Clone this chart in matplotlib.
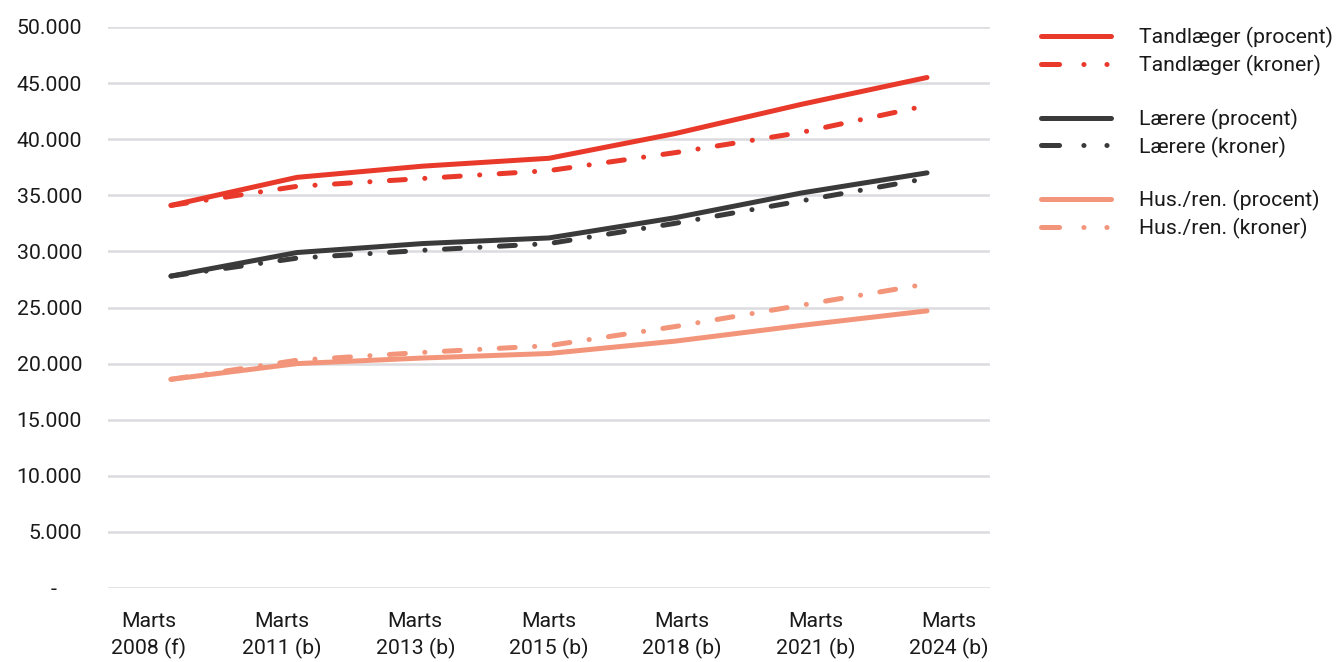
import matplotlib
matplotlib.use("Agg")
import matplotlib.pyplot as plt
from matplotlib.lines import Line2D
from matplotlib.ticker import FuncFormatter, MultipleLocator
from matplotlib.transforms import ScaledTranslation

plt.rcParams["font.family"] = ["Roboto", "DejaVu Sans"]
plt.rcParams["lines.scale_dashes"] = False

periods = ["Marts\n2008 (f)", "Marts\n2011 (b)", "Marts\n2013 (b)", "Marts\n2015 (b)",
           "Marts\n2018 (b)", "Marts\n2021 (b)", "Marts\n2024 (b)"]

tand_procent = [34100, 36600, 37600, 38300, 40500, 43100, 45500]
tand_kroner = [34100, 35800, 36500, 37200, 38800, 40600, 43000]
laer_procent = [27800, 29900, 30700, 31200, 33000, 35200, 37000]
laer_kroner = [27800, 29400, 30100, 30700, 32500, 34500, 36500]
hus_procent = [18600, 20000, 20500, 20900, 22000, 23400, 24700]
hus_kroner = [18600, 20300, 21000, 21600, 23300, 25200, 27100]

labels = ["Tandlæger (procent)", "Tandlæger (kroner)",
          "Lærere (procent)", "Lærere (kroner)",
          "Hus./ren. (procent)", "Hus./ren. (kroner)"]

RED = "#E8392B"
DARK = "#3A3A3A"
SALMON = "#F3957A"
GRID = "#DCDCE0"
TEXT = "#1A1A1A"
FS = 15.3

W, H = 1337, 662
fig = plt.figure(figsize=(W / 100, H / 100), dpi=100)
ax = fig.add_axes([108 / W, 1 - 588 / H, (990 - 108) / W, (588 - 27) / H])

x = list(range(len(periods)))
lw = 3.6
dashdot = (0, (11.5, 14.0, 0.1, 14.0))
series = [
    (tand_procent, RED, "-"), (tand_kroner, RED, dashdot),
    (laer_procent, DARK, "-"), (laer_kroner, DARK, dashdot),
    (hus_procent, SALMON, "-"), (hus_kroner, SALMON, dashdot),
]
for (vals, col, ls), lab in zip(series, labels):
    ax.plot(x, vals, color=col, lw=lw, ls=ls, solid_capstyle="round",
            dash_capstyle="round", solid_joinstyle="round", label=lab, zorder=3)

ax.set_xlim(-0.5, len(periods) - 0.5)
ax.set_ylim(0, 50000)
ax.yaxis.set_major_locator(MultipleLocator(5000))
ax.yaxis.set_major_formatter(FuncFormatter(
    lambda v, p: "-" if v == 0 else f"{int(v):,}".replace(",", ".")))
ax.grid(axis="y", color=GRID, lw=1.8, zorder=0)
for s in ax.spines.values():
    s.set_visible(False)
ax.tick_params(axis="y", length=0, pad=18.7, labelsize=FS, labelcolor=TEXT)
ax.tick_params(axis="x", length=0)
ax.set_xticks([])

fig.canvas.draw()
for lbl in ax.get_yticklabels():
    if lbl.get_text() == "-":
        lbl.set_transform(lbl.get_transform() + ScaledTranslation(-0.26, 0, fig.dpi_scale_trans))

# category labels spread evenly beneath the plot area
for i, lab in enumerate(periods):
    cx = 148.5 + 133.4 * i
    fig.text(cx / W, 1 - 612 / H, lab, ha="center", va="top", multialignment="center",
             fontsize=FS, color=TEXT, linespacing=1.45)

# legend swatches: solid line, and dash followed by two dots
legend_dash = (0, (13.0, 17.5, 0.1, 16.5, 0.1, 30.0))
def swatch(col, ls):
    return Line2D([], [], color=col, lw=lw, ls=ls, solid_capstyle="round", dash_capstyle="round")

blank = Line2D([], [], color="none")
leg_handles = [swatch(RED, "-"), swatch(RED, legend_dash), blank,
               swatch(DARK, "-"), swatch(DARK, legend_dash), blank,
               swatch(SALMON, "-"), swatch(SALMON, legend_dash)]
leg_labels = [labels[0], labels[1], " ", labels[2], labels[3], " ", labels[4], labels[5]]
fig.legend(leg_handles, leg_labels, loc="upper left", bbox_to_anchor=(1041 / W, 1 - 27 / H),
           frameon=False, fontsize=FS, handlelength=3.3, handletextpad=1.3,
           labelspacing=0.32, borderpad=0, borderaxespad=0, labelcolor=TEXT)

fig.savefig("out.png", dpi=100)
